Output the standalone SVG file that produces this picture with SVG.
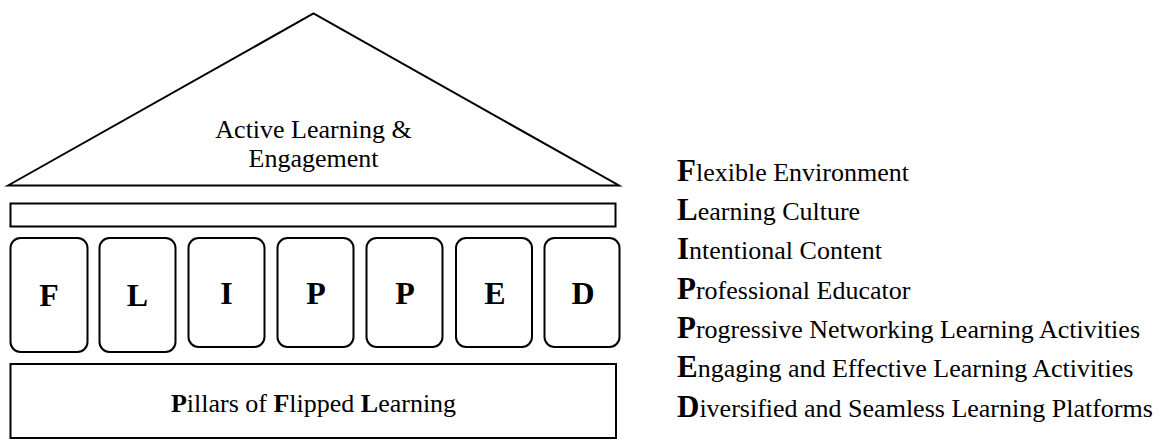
<svg xmlns="http://www.w3.org/2000/svg" width="1169" height="439" viewBox="0 0 1169 439">
<style>
.s{fill:#fff;stroke:#000;stroke-width:2;}
.t{font-family:'Times New Roman',Tinos,'Nimbus Roman','Nimbus Roman No9 L',FreeSerif,'Noto Serif','DejaVu Serif','Liberation Serif',serif;font-size:26px;font-weight:normal;fill:#000;}
.b{font-weight:bold;}
.big{font-size:31px;}
.pl{font-family:'Liberation Serif','Times New Roman',serif;font-size:32px;font-weight:bold;fill:#000;text-anchor:middle;}
</style>
<rect width="1169" height="439" fill="#fff"/>
<g id="roof">
<polygon class="s" points="8,185.5 313.5,13.5 619,185.5"/>
<text class="t" x="313.5" y="138" text-anchor="middle">Active Learning &amp;</text>
<text class="t" x="313.5" y="166.5" text-anchor="middle">Engagement</text>
</g>
<g id="beam">
<rect class="s" x="10.5" y="203.5" width="605" height="23"/>
</g>
<g id="pillar-F"><rect class="s" x="10.5" y="238" width="77" height="114" rx="10"/><text class="pl" x="49" y="306">F</text></g>
<g id="pillar-L"><rect class="s" x="99.5" y="238" width="76" height="114" rx="10"/><text class="pl" x="137.5" y="306">L</text></g>
<g id="pillar-I"><rect class="s" x="188.5" y="238" width="76" height="109" rx="10"/><text class="pl" x="226.5" y="304">I</text></g>
<g id="pillar-P1"><rect class="s" x="277.5" y="238" width="76" height="109" rx="10"/><text class="pl" x="316" y="304">P</text></g>
<g id="pillar-P2"><rect class="s" x="366.5" y="238" width="76" height="109" rx="10"/><text class="pl" x="405" y="304">P</text></g>
<g id="pillar-E"><rect class="s" x="456" y="238" width="76" height="109" rx="10"/><text class="pl" x="495" y="304">E</text></g>
<g id="pillar-D"><rect class="s" x="544.5" y="238" width="75" height="109" rx="10"/><text class="pl" x="583" y="304">D</text></g>
<g id="foundation">
<rect class="s" x="10.5" y="364" width="605.5" height="74"/>
<text class="t" x="313.5" y="412" text-anchor="middle"><tspan class="b">P</tspan>illars of <tspan class="b">F</tspan>lipped <tspan class="b">L</tspan>earning</text>
</g>
<g id="legend">
<text class="t" x="677" y="180.5"><tspan class="b big">F</tspan>lexible Environment</text>
<text class="t" x="677" y="220"><tspan class="b big">L</tspan>earning Culture</text>
<text class="t" x="677" y="259.3"><tspan class="b big">I</tspan>ntentional Content</text>
<text class="t" x="677" y="298.7"><tspan class="b big">P</tspan>rofessional Educator</text>
<text class="t" x="677" y="338"><tspan class="b big">P</tspan>rogressive Networking Learning Activities</text>
<text class="t" x="677" y="377.3"><tspan class="b big">E</tspan>ngaging and Effective Learning Activities</text>
<text class="t" x="677" y="416.7"><tspan class="b big">D</tspan>iversified and Seamless Learning Platforms</text>
</g>
<g id="connectors"></g>
</svg>
